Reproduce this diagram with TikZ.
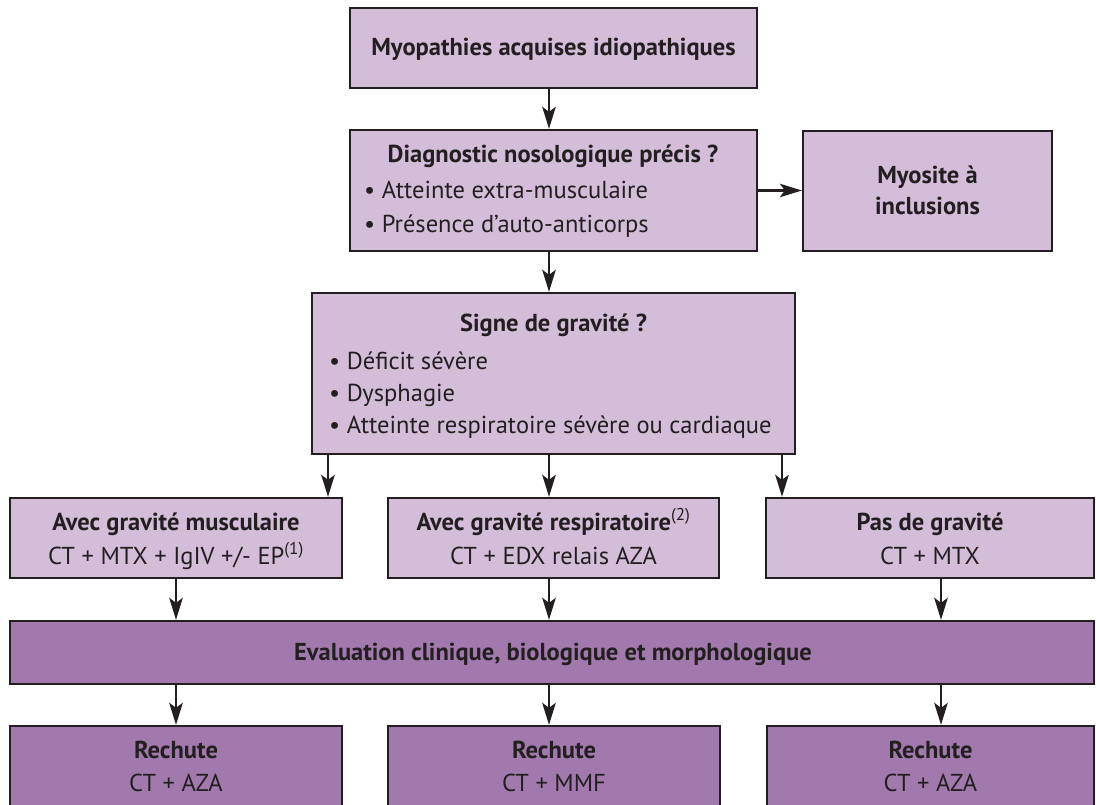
\documentclass[tikz,border=0pt]{standalone}
\usepackage{fontspec}
\setmainfont{PT Sans}
\usetikzlibrary{arrows.meta}
\definecolor{lightp}{RGB}{211,189,216}
\definecolor{darkp}{RGB}{162,121,172}
\definecolor{ink}{RGB}{35,31,32}
\begin{document}
\begin{tikzpicture}[x=1pt,y=-1pt,
  box/.style={draw=ink, line width=2.3pt, inner sep=0pt},
  lbox/.style={box, fill=lightp},
  dbox/.style={box, fill=darkp},
  ttl/.style={font=\fontsize{24.5}{28}\selectfont\bfseries, text=ink, anchor=base, inner sep=0pt},
  txt/.style={font=\fontsize{24.5}{28}\selectfont, text=ink, anchor=base, inner sep=0pt},
  btxt/.style={txt, anchor=base west},
  arr/.style={draw=ink, line width=2.2pt, -{Stealth[length=22pt,width=13.5pt,inset=5pt]}}]
\clip (0,0) rectangle (1096,805);
\fill[white] (0,0) rectangle (1096,805);
% boxes
\node[lbox, minimum width=407pt, minimum height=80pt] (top) at (553.5,48) {};
\node[lbox, minimum width=407pt, minimum height=121pt] (diag) at (553.5,190.5) {};
\node[lbox, minimum width=249pt, minimum height=120pt] (myo) at (927.5,191) {};
\node[lbox, minimum width=483pt, minimum height=161pt] (signe) at (553.5,373.5) {};
\node[lbox, minimum width=332pt, minimum height=80pt] (r3l) at (176,538) {};
\node[lbox, minimum width=331pt, minimum height=80pt] (r3m) at (553.5,538) {};
\node[lbox, minimum width=328pt, minimum height=80pt] (r3r) at (930,538) {};
\node[dbox, minimum width=1084pt, minimum height=63pt] (eval) at (552,652.5) {};
\node[dbox, minimum width=332pt, minimum height=88pt] (bl) at (176,770) {};
\node[dbox, minimum width=332pt, minimum height=88pt] (bm) at (554,770) {};
\node[dbox, minimum width=327pt, minimum height=88pt] (br) at (930.5,770) {};
% texts
\node[ttl] (tTop) at (553.5,56) {Myopathies acquises idiopathiques};
\node[ttl] (tDiag) at (553,163) {Diagnostic nosologique précis ?};
\node[btxt] (tDiag1) at (364,199) {• Atteinte extra-musculaire};
\node[btxt] (tDiag2) at (364,233) {• Présence d'auto-anticorps};
\node[ttl] (tMyo1) at (927.5,184) {Myosite à};
\node[ttl] (tMyo2) at (927.5,215) {inclusions};
\node[ttl] (tSig) at (553.5,331) {Signe de gravité ?};
\node[btxt] (tSig1) at (329,369) {• Déficit sévère};
\node[btxt] (tSig2) at (329,401) {• Dysphagie};
\node[btxt] (tSig3) at (329,433) {• Atteinte respiratoire sévère ou cardiaque};
\node[ttl] (tL1) at (176,530) {Avec gravité musculaire};
\node[txt] (tL2) at (176,564) {CT + MTX + IgIV +/- EP\textsuperscript{(1)}};
\node[ttl] (tM1) at (553.5,530) {Avec gravité respiratoire\textsuperscript{\mdseries(2)}};
\node[txt] (tM2) at (553.5,564) {CT + EDX relais AZA};
\node[ttl] (tR1) at (930,530) {Pas de gravité};
\node[txt] (tR2) at (930,564) {CT + MTX};
\node[ttl] (tEval) at (553,660) {Evaluation clinique, biologique et morphologique};
\node[ttl] (tB1a) at (176,758) {Rechute};
\node[txt] (tB1b) at (176,791) {CT + AZA};
\node[ttl] (tB2a) at (554,758) {Rechute};
\node[txt] (tB2b) at (554,791) {CT + MMF};
\node[ttl] (tB3a) at (930.5,758) {Rechute};
\node[txt] (tB3b) at (930.5,791) {CT + AZA};
% column coordinates
\coordinate (k1) at (328,0);
\coordinate (k2) at (549,0);
\coordinate (k3) at (782,0);
\coordinate (m1) at (176,0);
\coordinate (m3) at (941,0);
% arrows
\draw[arr] (top.south -| k2) -- (diag.north -| k2);
\draw[arr] (diag.east) -- (diag.east -| myo.west);
\draw[arr] (diag.south -| k2) -- (signe.north -| k2);
\draw[arr] (signe.south -| k1) -- (r3l.north -| k1);
\draw[arr] (signe.south -| k2) -- (r3m.north -| k2);
\draw[arr] (signe.south -| k3) -- (r3r.north -| k3);
\draw[arr] (r3l.south -| m1) -- (eval.north -| m1);
\draw[arr] (r3m.south -| k2) -- (eval.north -| k2);
\draw[arr] (r3r.south -| m3) -- (eval.north -| m3);
\draw[arr] (eval.south -| m1) -- (bl.north -| m1);
\draw[arr] (eval.south -| k2) -- (bm.north -| k2);
\draw[arr] (eval.south -| m3) -- (br.north -| m3);
\end{tikzpicture}
\end{document}
